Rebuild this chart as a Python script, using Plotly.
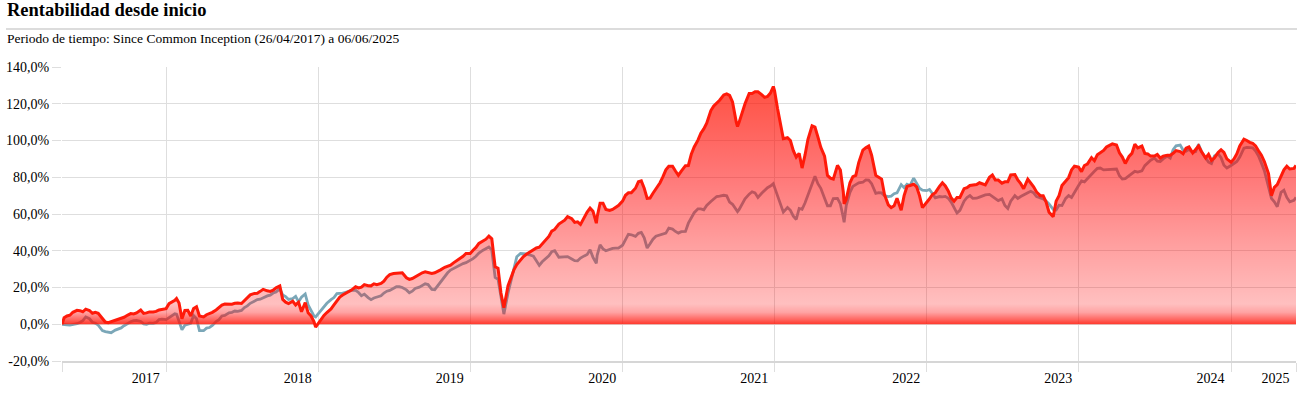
import pandas as pd
import plotly.graph_objects as go

# ---------------- data ----------------
start_date = "2017-04-26"
end_date = "2025-06-06"
# observation dates: 1st and 15th of each month (May 2017 .. 1 Jun 2025) ...
grid_dates = pd.date_range("2017-05-01", "2025-06-01", freq="SMS")
# ... plus the 8th and 22nd of each month (May 2017 .. 22 May 2025)
mid_dates = grid_dates[:-1] + pd.Timedelta(days=7)

# fund (red) on the 1st / 15th
fund_2017 = [3.5, 4.9, 7.6, 6.8, 7.5, 6.5, 2.8, 0.8, 2.2, 3.3, 5.0, 5.6, 7.8, 6.2, 6.7, 7.8]
fund_2018 = [8.5, 12.0, 11.5, 7.5, 4.5, 9.5, 4.0, 5.8, 7.8, 10.4, 11.1, 11.4,
             11.3, 14.6, 16.8, 17.9, 18.2, 18.5, 20.8, 12.0, 12.5, 12.0, 11.8, 4.5]
fund_2019 = [0.5, 4.8, 8.3, 12.6, 15.9, 17.3, 20.4, 20.2, 21.0, 22.0, 22.2, 25.6,
             27.6, 28.0, 25.3, 24.9, 27.3, 28.5, 27.7, 28.7, 31.0, 32.2, 34.8, 37.0]
fund_2020 = [38.5, 41.8, 45.5, 48.0, 31.3, 17.0, 21.0, 29.6, 35.3, 38.1, 40.7, 41.9,
             46.2, 50.7, 54.5, 56.6, 57.5, 55.7, 58.4, 63.2, 58.5, 65.9, 61.9, 63.5]
fund_2021 = [67.0, 71.5, 74.0, 78.0, 68.5, 71.3, 77.0, 84.0, 86.0, 81.0, 86.3, 92.5,
             100.2, 106.3, 116.3, 120.3, 124.8, 124.6, 110.0, 115.0, 125.6, 126.5, 125.0, 124.0]
fund_2022 = [127.0, 110.0, 101.5, 94.5, 93.0, 92.0, 108.0, 102.0, 91.5, 79.5, 86.5, 72.0,
             77.0, 81.0, 94.8, 97.0, 81.0, 79.0, 65.0, 64.5, 62.0, 75.0, 76.2, 70.0]
fund_2023 = [66.0, 70.6, 75.0, 75.3, 68.8, 69.0, 73.8, 75.5, 76.0, 76.2, 80.0, 78.5,
             76.8, 77.5, 81.5, 76.5, 79.0, 74.8, 70.0, 66.5, 58.5, 70.0, 78.2, 84.0]
fund_2024 = [85.5, 86.4, 90.7, 92.3, 94.6, 97.5, 97.5, 91.0, 91.3, 98.0, 97.0, 92.7,
             91.5, 90.5, 92.0, 93.0, 94.0, 95.8, 93.2, 97.0, 90.5, 89.2, 93.5, 93.5]
fund_2025 = [88.2, 92.8, 100.7, 99.0, 97.0, 92.0, 82.0, 74.5, 80.8, 86.0, 84.8]

# benchmark (blue) on the 1st / 15th
bench_2017 = [0.0, -0.5, 0.3, 2.0, 3.0, 0.6, -3.4, -4.3, -3.2, -2.0, 0.5, 2.0, 1.5, 0.0, 0.5, 2.6]
bench_2018 = [2.5, 5.0, 2.0, -0.5, 0.5, 3.0, -3.5, -1.8, 1.5, 4.5, 6.2, 7.2,
              7.5, 10.0, 12.4, 13.6, 15.4, 17.0, 19.2, 15.0, 14.0, 12.2, 16.5, 7.6]
bench_2019 = [5.6, 9.8, 13.4, 16.7, 16.9, 18.0, 18.5, 15.5, 14.5, 14.3, 15.5, 18.0,
              19.8, 20.4, 18.7, 18.0, 20.2, 22.0, 19.0, 21.0, 26.0, 29.5, 31.2, 33.0]
bench_2020 = [34.6, 37.0, 40.3, 42.0, 25.5, 16.0, 17.0, 30.5, 38.5, 38.3, 37.0, 32.0,
              36.0, 39.5, 36.5, 37.0, 35.5, 34.5, 37.2, 40.5, 37.5, 41.0, 40.8, 41.4]
bench_2021 = [43.0, 49.0, 47.8, 50.0, 41.5, 46.3, 48.6, 49.6, 51.8, 49.6, 50.5, 58.3,
              62.8, 62.3, 66.8, 69.5, 70.2, 66.5, 62.5, 65.2, 70.8, 71.5, 71.3, 74.3]
bench_2022 = [74.5, 66.2, 63.5, 58.8, 63.0, 66.0, 77.0, 76.5, 68.6, 64.5, 68.5, 58.0,
              71.8, 76.0, 77.3, 78.5, 71.2, 71.5, 69.5, 71.0, 76.0, 76.2, 79.5, 74.0]
bench_2023 = [72.7, 71.0, 69.5, 69.6, 66.5, 60.5, 67.0, 70.0, 68.6, 69.8, 70.7, 68.2,
              68.2, 63.0, 70.0, 69.5, 71.6, 71.5, 68.6, 67.0, 62.5, 64.8, 68.5, 69.0]
bench_2024 = [75.5, 77.5, 81.8, 84.8, 84.0, 84.2, 84.5, 79.0, 80.6, 83.2, 83.5, 87.8,
              90.4, 88.5, 91.5, 95.0, 97.5, 94.2, 93.5, 98.0, 90.5, 87.4, 92.7, 86.5]
bench_2025 = [86.4, 88.6, 95.8, 96.0, 94.3, 87.7, 74.8, 66.6, 71.8, 69.0, 67.5]

# fund (red) on the 8th / 22nd
fund_mid_2017 = [4.5, 6.5, 7.4, 8.2, 6.0, 6.0, 1.2, 1.3, 2.7, 3.8, 5.8, 6.2, 5.9, 6.7, 7.0, 8.0]
fund_mid_2018 = [11.2, 13.0, 3.0, 7.6, 8.5, 4.5, 5.2, 6.5, 8.9, 11.0, 10.9, 11.6,
                 12.7, 16.0, 16.9, 19.0, 17.9, 19.8, 13.5, 11.2, 10.5, 6.8, 6.2, 1.5]
fund_mid_2019 = [2.5, 6.4, 10.5, 14.8, 16.8, 18.6, 19.8, 21.6, 20.9, 21.5, 23.4, 27.0,
                 27.8, 28.0, 24.4, 25.8, 28.0, 28.0, 28.0, 29.6, 31.5, 33.4, 35.8, 38.5]
fund_mid_2020 = [40.3, 44.0, 46.3, 46.5, 30.5, 9.0, 25.0, 32.5, 36.8, 39.2, 41.5, 43.6,
                 47.8, 51.6, 55.8, 58.6, 55.4, 54.3, 61.0, 61.5, 65.9, 62.5, 62.5, 64.6]
fund_mid_2021 = [70.2, 71.5, 77.5, 74.0, 68.7, 73.4, 80.3, 86.0, 83.4, 83.3, 86.4, 96.5,
                 104.0, 109.4, 118.8, 121.9, 125.4, 121.0, 110.0, 120.0, 125.6, 126.5, 123.5, 125.8]
fund_mid_2022 = [117.5, 101.0, 100.0, 91.0, 85.0, 100.5, 107.3, 96.3, 81.0, 79.0, 84.0, 68.0,
                 80.3, 88.0, 96.0, 92.0, 80.0, 70.5, 63.5, 68.6, 70.0, 75.5, 74.8, 63.5]
fund_mid_2023 = [68.3, 71.6, 77.0, 72.5, 67.0, 69.0, 74.3, 75.8, 77.0, 75.8, 81.2, 78.5,
                 77.5, 81.3, 78.5, 73.8, 77.0, 72.0, 70.0, 61.0, 67.0, 75.5, 79.8, 86.0]
fund_mid_2024 = [83.0, 87.2, 89.0, 93.3, 96.5, 98.2, 93.3, 87.5, 93.0, 96.0, 93.0, 91.5,
                 92.4, 91.5, 92.0, 94.5, 92.8, 96.5, 95.0, 94.0, 92.5, 90.5, 95.0, 90.0]
fund_mid_2025 = [90.0, 97.0, 100.0, 98.5, 94.4, 88.5, 70.0, 76.0, 84.0, 84.5]

# benchmark (blue) on the 8th / 22nd
bench_mid_2017 = [-0.3, -0.2, 1.0, 4.0, 1.1, -0.5, -4.0, -4.6, -2.7, -0.8, 1.4, 2.1, 0.2, 0.6, 1.0, 2.8]
bench_mid_2018 = [3.6, 5.7, -3.0, 0.2, 4.7, -3.5, -2.1, -0.6, 2.5, 4.8, 6.5, 7.0,
                  9.1, 11.4, 13.4, 14.5, 15.8, 17.6, 16.0, 13.5, 15.2, 14.7, 10.5, 4.5]
bench_mid_2019 = [7.5, 11.4, 14.5, 16.7, 17.4, 18.4, 17.3, 16.4, 13.4, 14.9, 17.0, 18.4,
                  20.4, 20.0, 17.1, 19.5, 21.1, 21.6, 18.8, 22.9, 28.0, 30.4, 32.0, 33.5]
bench_mid_2020 = [35.7, 38.7, 41.2, 40.4, 24.5, 5.5, 24.0, 36.7, 38.5, 37.8, 34.5, 34.0,
                  37.2, 40.0, 36.6, 36.8, 34.6, 36.0, 38.0, 36.4, 43.2, 40.0, 41.3, 41.4]
bench_mid_2021 = [46.4, 48.7, 49.5, 47.0, 43.8, 47.9, 49.1, 52.3, 50.5, 50.4, 55.0, 60.7,
                  62.8, 64.7, 68.0, 69.7, 69.9, 65.3, 62.5, 68.2, 72.1, 69.0, 73.1, 75.2]
bench_mid_2022 = [70.0, 61.0, 62.0, 57.0, 62.5, 70.5, 80.5, 74.0, 64.5, 68.4, 65.5, 64.5,
                  75.0, 77.0, 78.6, 76.5, 71.6, 70.0, 69.7, 71.5, 74.3, 75.5, 76.5, 73.0]
bench_mid_2023 = [73.4, 68.8, 69.3, 68.6, 63.8, 62.0, 69.0, 68.5, 69.2, 70.4, 69.6, 67.3,
                  64.6, 67.0, 68.5, 70.5, 72.4, 69.5, 68.2, 65.5, 62.2, 64.6, 70.0, 72.0]
bench_mid_2024 = [78.0, 79.2, 83.3, 85.0, 84.1, 84.0, 80.8, 79.2, 81.9, 82.8, 86.3, 89.3,
                  88.7, 90.0, 90.4, 97.1, 94.7, 95.2, 94.0, 94.0, 88.2, 91.6, 90.6, 85.0]
bench_mid_2025 = [87.6, 91.0, 96.3, 96.0, 91.6, 83.6, 68.5, 64.0, 73.0, 66.6]

# additional observations at notable turning points
extra_dates = ["2018-01-26", "2018-12-26", "2020-10-30", "2021-10-04", "2021-12-29", "2022-06-17"]
extra_fund = [14.0, -1.5, 55.0, 107.6, 129.4, 65.5]
extra_bench = [5.5, 4.0, 33.2, 61.3, 76.5, 55.5]

start_fund, start_bench = 0.0, 0.0
end_fund, end_bench = 86.4, 69.0

year_labels = ["2017", "2018", "2019", "2020", "2021", "2022", "2023", "2024", "2025"]
y_ticks = [-20, 0, 20, 40, 60, 80, 100, 120, 140]
y_labels = ["-20,0%", "0,0%", "20,0%", "40,0%", "60,0%", "80,0%", "100,0%", "120,0%", "140,0%"]

# ---------------- assemble ----------------
fund_grid = (fund_2017 + fund_2018 + fund_2019 + fund_2020 + fund_2021 + fund_2022
             + fund_2023 + fund_2024 + fund_2025)
bench_grid = (bench_2017 + bench_2018 + bench_2019 + bench_2020 + bench_2021 + bench_2022
              + bench_2023 + bench_2024 + bench_2025)
fund_mid = (fund_mid_2017 + fund_mid_2018 + fund_mid_2019 + fund_mid_2020 + fund_mid_2021
            + fund_mid_2022 + fund_mid_2023 + fund_mid_2024 + fund_mid_2025)
bench_mid = (bench_mid_2017 + bench_mid_2018 + bench_mid_2019 + bench_mid_2020 + bench_mid_2021
             + bench_mid_2022 + bench_mid_2023 + bench_mid_2024 + bench_mid_2025)
assert len(fund_grid) == len(grid_dates) == len(bench_grid)
assert len(fund_mid) == len(mid_dates) == len(bench_mid)

df = pd.DataFrame({
    "date": [pd.Timestamp(start_date)] + list(grid_dates) + list(mid_dates)
            + list(pd.to_datetime(extra_dates)) + [pd.Timestamp(end_date)],
    "fund": [start_fund] + fund_grid + fund_mid + extra_fund + [end_fund],
    "bench": [start_bench] + bench_grid + bench_mid + extra_bench + [end_bench],
}).sort_values("date")

FONT = "Liberation Serif"
GRID = "#dedede"

fig = go.Figure()
fig.add_trace(go.Scatter(
    x=df["date"], y=df["bench"], mode="lines",
    line=dict(color="#7ba7b8", width=2.8), hoverinfo="skip", showlegend=False))
fig.add_trace(go.Scatter(
    x=df["date"], y=df["fund"], mode="lines", fill="tozeroy",
    line=dict(color="#ff1a0a", width=3),
    fillgradient=dict(
        type="vertical", start=0, stop=130,
        colorscale=[
            [0.0, "rgba(255,30,15,0.88)"],
            [0.02, "rgba(255,10,0,0.62)"],
            [0.05, "rgba(255,0,0,0.36)"],
            [0.085, "rgba(255,0,0,0.25)"],
            [0.3, "rgba(255,0,0,0.36)"],
            [0.6, "rgba(255,0,0,0.52)"],
            [1.0, "rgba(255,20,0,0.74)"],
        ]),
    hoverinfo="skip", showlegend=False))

years_end = [pd.Timestamp(f"{int(y) + 1}-01-01") for y in year_labels[:-1]] + [pd.Timestamp(end_date)]
label_pos = [d - pd.Timedelta(days=49) for d in years_end]
grid_pos = [pd.Timestamp(start_date)] + years_end

W, H = 1297, 395
ML, MR, MT, MB = 62, 1, 67, 34
pw, ph = W - ML - MR, H - MT - MB


def px_x(x):
    return (x - ML) / pw


def px_y(y):
    return (H - MB - y) / ph


fig.update_layout(
    width=W, height=H,
    margin=dict(l=ML, r=MR, t=MT, b=MB, autoexpand=False),
    paper_bgcolor="white", plot_bgcolor="white",
    font=dict(family=FONT, size=14, color="#000"),
    xaxis=dict(
        type="date",
        range=[start_date, end_date],
        tickmode="array", tickvals=label_pos, ticktext=year_labels,
        showgrid=False, ticks="outside", ticklen=3, tickcolor="rgba(0,0,0,0)",
        tickfont=dict(family=FONT, size=14, color="#000"),
        showline=True, linecolor="#d6d6d6", linewidth=2,
        zeroline=False,
        minor=dict(tickmode="array", tickvals=grid_pos, showgrid=True, gridcolor=GRID,
                   gridwidth=1, ticks="outside", ticklen=9, tickcolor=GRID),
    ),
    yaxis=dict(
        range=[-20, 140],
        tickmode="array", tickvals=y_ticks, ticktext=y_labels,
        showgrid=True, gridcolor=GRID, gridwidth=1,
        ticks="outside", ticklen=9, tickcolor=GRID,
        zeroline=False, showline=False,
        tickfont=dict(family=FONT, size=14, color="#000"),
    ),
    annotations=[
        dict(text="<b>Rentabilidad desde inicio</b>", xref="paper", yref="paper",
             x=px_x(5), y=px_y(10.5), xanchor="left", yanchor="middle", showarrow=False,
             font=dict(family=FONT, size=18.5, color="#000")),
        dict(text="Periodo de tiempo: Since Common Inception (26/04/2017) a 06/06/2025",
             xref="paper", yref="paper", x=px_x(5), y=px_y(38.5), xanchor="left",
             yanchor="middle", showarrow=False,
             font=dict(family=FONT, size=13.5, color="#000")),
    ],
    shapes=[
        dict(type="line", xref="paper", yref="paper", x0=px_x(6), x1=px_x(1297),
             y0=px_y(29), y1=px_y(29), line=dict(color="#dcdcdc", width=2)),
    ],
)

fig.write_html("out.html", config={"displayModeBar": False},
               post_script="document.body.style.margin='0';")
